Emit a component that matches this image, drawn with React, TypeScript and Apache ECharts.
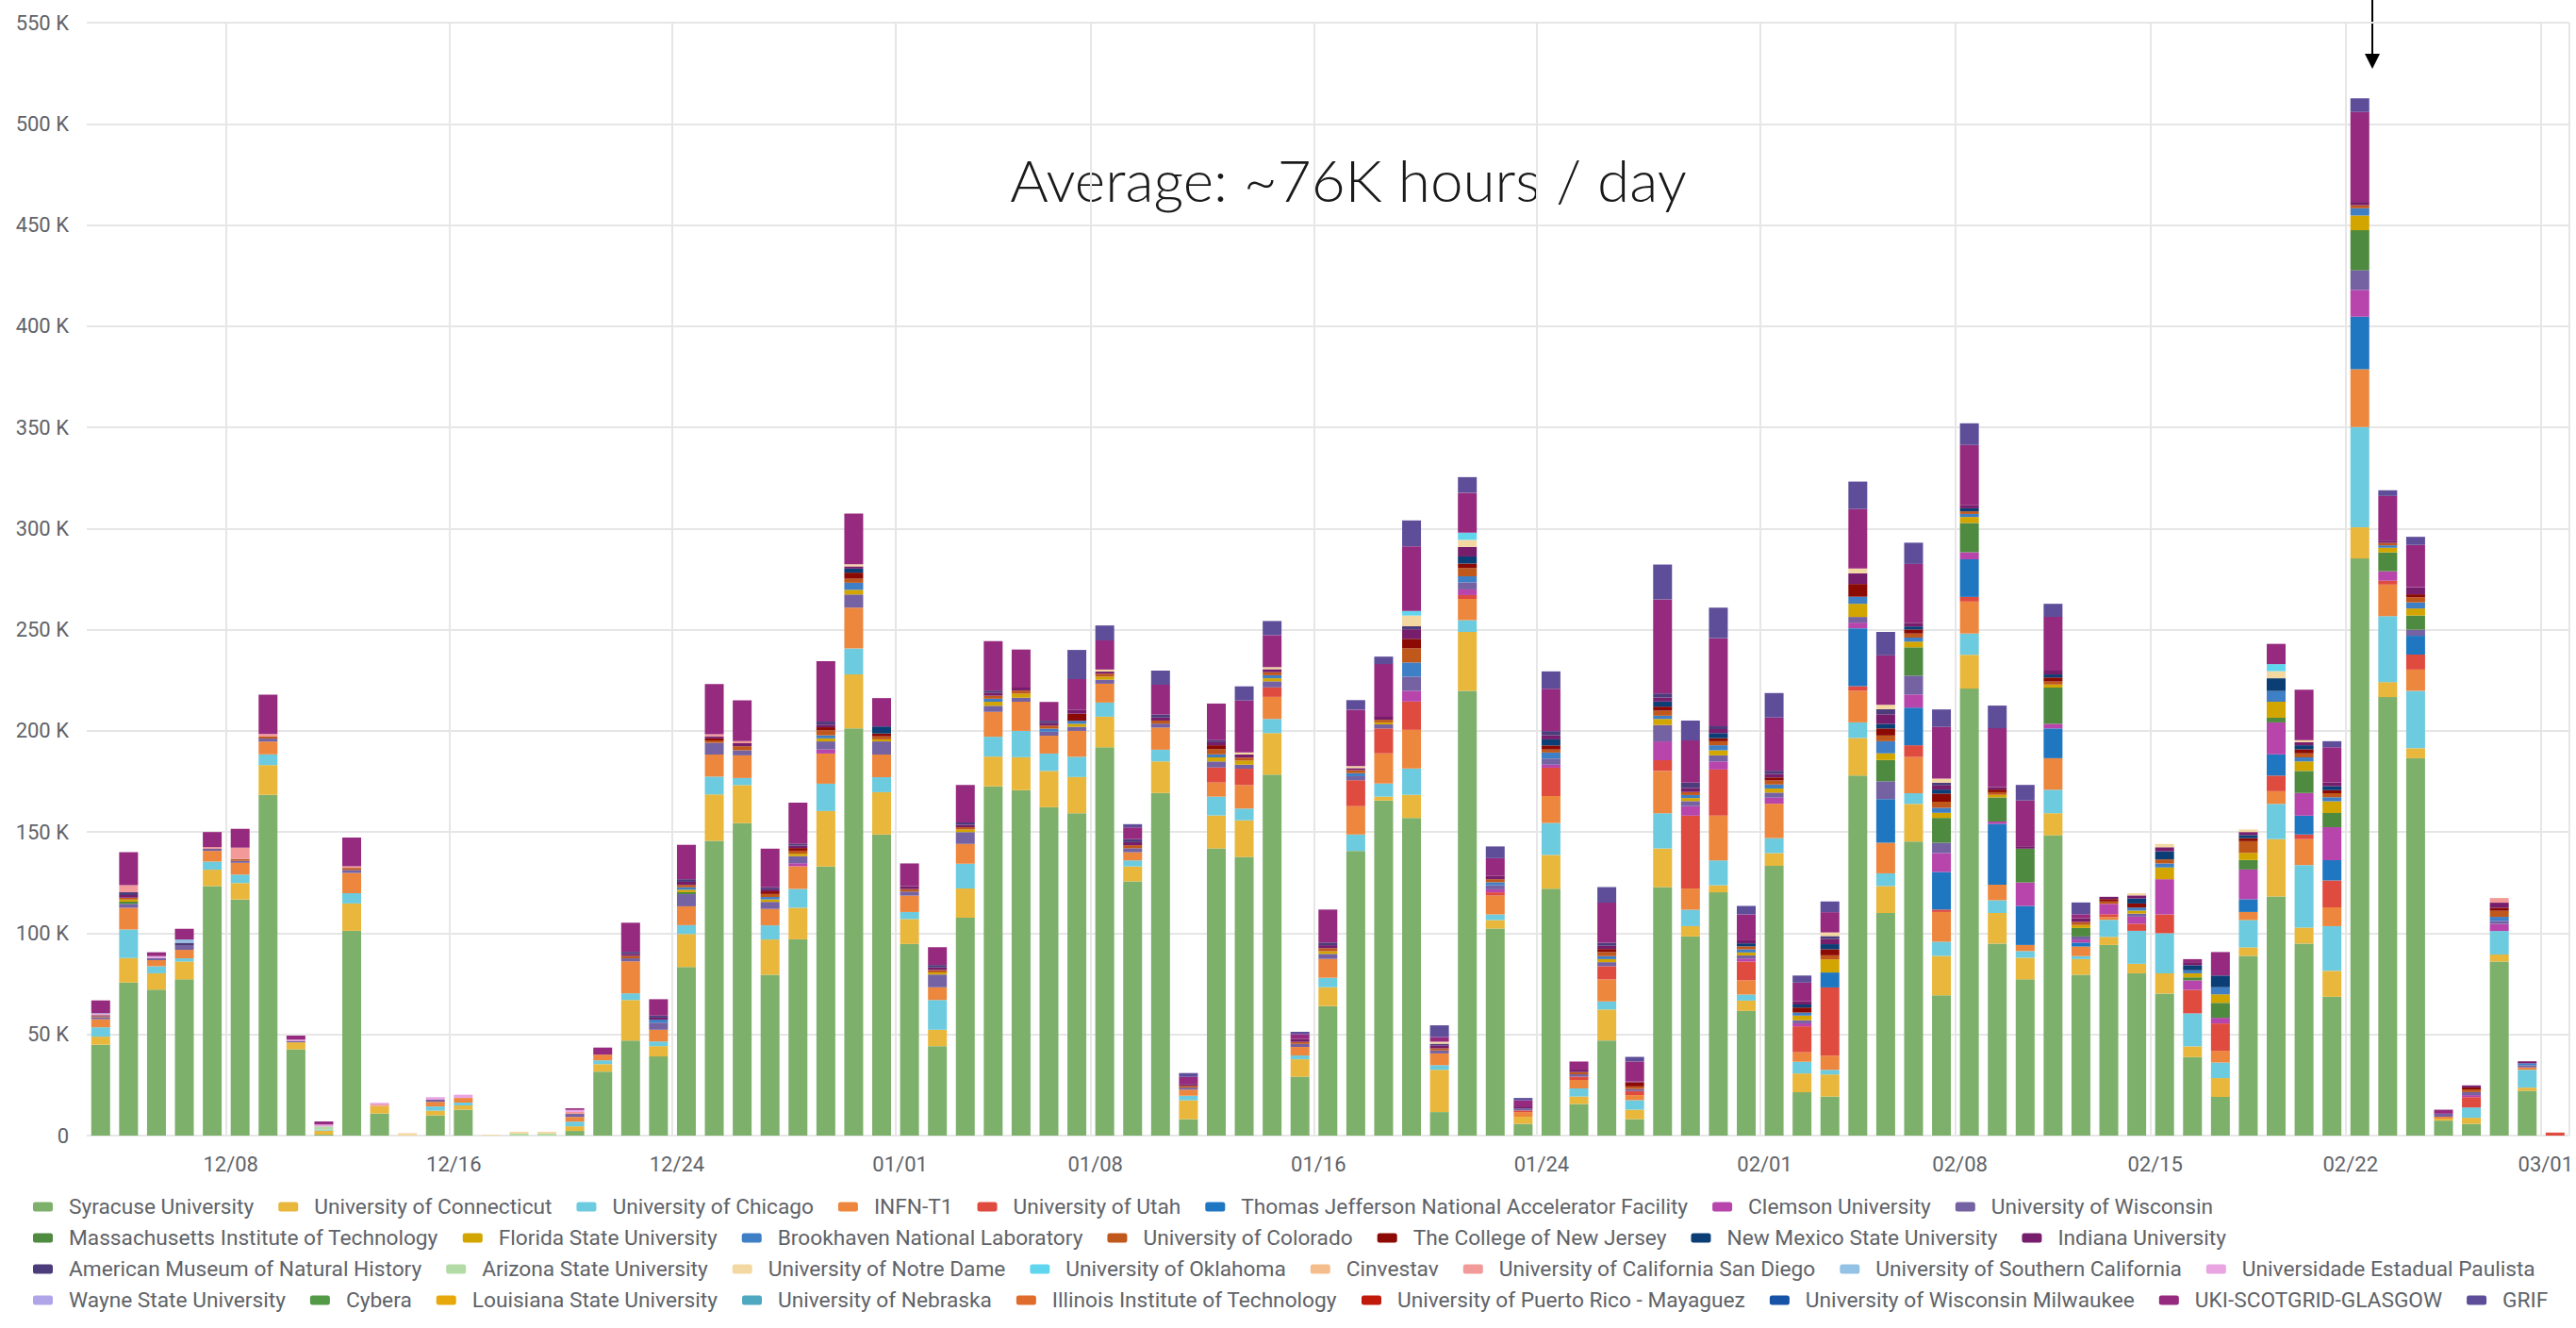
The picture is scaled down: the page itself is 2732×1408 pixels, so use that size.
import React, { useEffect, useRef } from 'react';
import * as echarts from 'echarts';

// ---------------- data (thousand core hours per day) ----------------
const dates = [
  '12/03','12/04','12/05','12/06','12/07','12/08','12/09','12/10','12/11','12/12',
  '12/13','12/14','12/15','12/16','12/17','12/18','12/19','12/20','12/21','12/22',
  '12/23','12/24','12/25','12/26','12/27','12/28','12/29','12/30','12/31','01/01',
  '01/02','01/03','01/04','01/05','01/06','01/07','01/08','01/09','01/10','01/11',
  '01/12','01/13','01/14','01/15','01/16','01/17','01/18','01/19','01/20','01/21',
  '01/22','01/23','01/24','01/25','01/26','01/27','01/28','01/29','01/30','01/31',
  '02/01','02/02','02/03','02/04','02/05','02/06','02/07','02/08','02/09','02/10',
  '02/11','02/12','02/13','02/14','02/15','02/16','02/17','02/18','02/19','02/20',
  '02/21','02/22','02/23','02/24','02/25','02/26','02/27','02/28','03/01'
];
const tickLabels = ['12/08','12/16','12/24','01/01','01/08','01/16','01/24','02/01','02/08','02/15','02/22','03/01'];

const syracuse = [
  44.9,75.6,72.1,77.2,123.3,116.7,168.4,42.6,0.5,101.2,
  10.9,0,10,12.8,0,0,0,2.3,31.6,47,
  39.1,83.3,145.6,154.4,79.5,97,133,201.2,148.8,94.7,
  44.2,107.7,172.6,170.7,162.3,159.3,191.9,125.6,169.3,8.1,
  141.9,137.7,178.4,29.1,64,140.7,165.6,157,11.6,219.8,
  102.3,5.8,122,15.6,47,8.1,122.8,98.4,120.2,61.6,
  133.3,21.4,19.3,177.9,110,145.3,69.3,220.9,94.9,77.2,
  148.4,79.5,94.2,80.2,70.2,38.8,19.1,88.8,118.1,94.9,
  68.6,285.2,216.7,186.5,7.4,5.8,86,22.1,0
];
const connecticut = [
  4,12.1,8.1,8.8,8.1,8.1,14.7,3.5,2,13.5,
  3.7,0,2.3,2.1,0,0,0,2.3,3.7,20,
  5.1,16.3,23,18.8,17.4,15.6,27.4,26.7,20.9,12.3,
  8.1,14.4,14.7,16.3,17.9,17.9,15.1,7.4,15.6,9.3,
  16.3,18.1,20.5,8.6,9.3,0,1.9,11.4,20.9,29.1,
  4.2,3.5,16.7,3.7,15.3,4.7,19.1,5.1,3.5,5.1,
  6.3,9.3,10.9,18.6,13.3,18.6,19.5,16.7,15.1,10.7,
  10.9,7.7,4,4.7,10,5.3,9.3,4.2,28.4,7.9,
  12.8,15.4,7.4,4.9,1,3,3.5,1.6,0
];
const chicago = [
  4.6,14.2,3.5,1.6,4,4.2,5.3,0,0.5,5.1,
  0,0,2.1,1.4,0,0,0,2.3,1.9,3.3,
  2.3,4.4,8.8,3.5,7,9.3,13.5,12.8,7.4,3.5,
  14.7,12.3,9.8,13,8.6,10,7,3,5.8,2.3,
  9.3,5.8,7,1.9,4.7,8.1,6.5,13,2.3,5.8,
  2.8,0,15.8,4,4,4.7,17.4,8.1,12.3,3,
  7.4,5.8,2.3,7.7,6.3,5.3,7,10.5,6.3,3.3,
  11.6,1.5,8.4,16.3,19.8,16.3,7.7,13.5,17.4,30.9,
  22.1,49.6,32.6,28.4,0,5.1,11.6,8.8,0
];
const infn = [
  4,10.7,3,4.2,5.3,5.8,6.3,0,0,10,
  0,0,2.3,2.3,0,0,0,2.3,2.8,15.8,
  5.8,9.3,10.9,11.2,8.1,11.2,14.9,20.2,11.2,8.1,
  6.3,9.8,12.3,14.4,8.8,12.8,9.3,4,10.9,3,
  7,11.6,10.9,4.2,9.3,14,14.9,19.1,5.8,10.5,
  9.3,2.3,13.3,4.2,10.9,2.5,20.9,10.5,22.1,7,
  17,4.7,7,15.6,15.1,17.9,14.7,15.8,7.7,3,
  15.6,4.7,1.4,0,0,0,5.8,4,6.3,12.8,
  9.3,28.5,15.6,10.5,0.9,0,0,1.2,0
];
const utah = [
  0,0,0,0,0,0,0,0,0,0,
  0,0,0,0,0,0,0,0,0,0,
  0,0,0,0,0,0,0,0,0,0,
  0,0,0,0,0,0,0,0,0,0,
  7.4,8.1,4.7,0,0,12.8,12.3,14,0,1.9,
  1.6,0.8,14,1.6,6.5,2,5.3,36,22.8,9.3,
  0,12.8,33.7,2.3,0,5.8,1.2,2.3,0,0,
  0,0,1.4,3.5,9.3,11.6,13.5,0,7.7,2.3,
  13.3,0,1.9,7.4,0,5.1,0,0,1.5
];
const jlab = [
  0,0,0,0,0,0,0,0,0,0,
  0,0,0,0,0,0,0,0,0,0,
  0,0,0,0,0,0,0,0,0,0,
  0,0,0,0,0,0,0,0,0,0,
  0,0,0,0,0,0,0,0,0,0,
  0,0,0,0,0,0,0,0,0,0,
  0,0,7.4,28.6,21.6,18.6,18.6,18.6,30,19.3,
  14.7,2,0,0,0,0,0,6.3,10.5,9.3,
  10,26,0,9.3,0,0,0,0,0
];
const clemson = [
  0,0,0,0,0,0,0,0,0,0,
  0,0,0,0,0,0,0,0,0,0,
  0,0,0,0,0,1.5,2,0,0,0,
  0,0,0,0,0,0,0,0,0,0,
  0,0,0,0,0,0,0,5.3,0,2.8,
  1.5,0,1.5,0,0,0,9.3,4.7,4,1.5,
  3,1.5,0,2.8,0,6.5,9.3,3.5,1.2,11.6,
  2.3,1.5,5.1,3.5,17.4,4.7,2.8,14.7,15.8,11.2,
  16.3,13.2,4.7,0,0,1,3.5,0,0
];
const wisconsin = [
  1,2,1,2,1,1,1.5,0.7,0,1.5,
  0,0,1,0,0,0,0,1.5,0,1.5,
  3.5,6,5.8,2.5,3.5,3.5,4,6.5,6.5,2,
  6.3,5.8,3,2,2,2,2,2,2,1,
  3,2,3,1.5,2.5,2,2,7,1.5,3.5,
  2,1,3,1.2,2,1,8.1,2.5,3,1.5,
  2.5,1.5,0,2.8,8.8,9.3,5.1,0,0,0,
  0,1.5,0,1.5,0,0,0,0,0,0,
  0,9.8,0,3,1.5,1.5,1.5,1,0
];
const mit = [
  0,1,0,0,0,0,0,0,0,0,
  0,0,0,0,0,0,0,0,0,0,
  0,1,0,0,0,0,0,0,0,0,
  0,0,0,0,0,0,0,0,0,0,
  0,0,0,0,0,0,0,0,0,0,
  0,0,0,0,0,0,0,0,0,0,
  0,0,0,0,10.5,14,12.3,14.4,11.9,16.7,
  17.9,4.2,0,0,0,1.5,7.4,4.7,2.3,10.9,
  7,19.7,9.3,7,0,0,0,0,0
];
const floridaState = [
  0,1,0,0,0,0,0,0,0,0,
  0,0,0,0,0,0,0,0,0,0,
  0,1.2,0,0,1.2,1.2,1.5,2.3,1,0,
  1,1.2,2,2,0,1.5,1.5,0,0,0,
  2,2,1.5,0,1.3,0,1,0,0,0,
  0,0,0,0,1.5,0,3,1.5,2.5,1.5,
  2,2.3,6.5,6.5,3.3,2.8,2.5,3,1.3,0,
  1.5,1.5,0,1.5,5.8,2,4.2,3.5,7.9,4.7,
  5.8,7.3,2.3,3.5,0,0,0,0,0
];
const brookhaven = [
  0,0,0,0,0,0,0,0,0,0,
  0,0,0,0,0,0,0,0,0,0,
  1.5,1.2,0,0,1.2,0,1.5,3.5,0,0,
  0,0,1.5,0,1.5,1.5,0,0,0,0,
  1.5,0,1.5,0,0,1.5,0,7,0,3,
  1.5,0,3,0,1.5,0,1.6,1.5,2.5,1.5,
  2,1.5,0,3.5,6,2,2.5,1.5,0,0,
  0,0,0,1.5,2,1.5,3.5,0,5.3,2,
  2,3.6,1.2,3,0,0,2,1,0
];
const colorado = [
  0.5,1,0,0,0,0.9,1,0,0,1,
  0,0,0,0,0,0,0,0,0,1.2,
  0,1.2,1.2,2,1.5,1.5,2.5,2,1.5,1.2,
  1.2,1.2,1.5,1.5,1.5,0,1.5,1.5,1.5,0.9,
  2.5,1.5,1.5,1,1.5,1.5,1.3,7,1,4,
  1.5,0,1.5,1.1,2,1.3,2.5,1.5,2,1.5,
  2,0,2,0,2.8,2,3,1.3,1.3,0,
  1.5,1.5,1.2,0,2,0,0,5.8,0,2,
  2,1.5,1.2,2.5,0,1.3,3,0,0
];
const collegeNJ = [
  0,0,0,0,0,0,0,0,0,0,
  0,0,0,0,0,0,0,0,0,0,
  0,0,1,0,1.3,1.3,1.5,3,1.4,0,
  0,0,0,0,0,3.5,0,0,0,0,
  2,0,0,0,0,0,0,4.7,0,2.3,
  0,0,2,0,1.5,2,2,0,1.5,0,
  1.5,2.5,3,6.3,3.5,2,4,0,1.3,0,
  2,0,1.2,2,0,0,0,1.5,0,2,
  1.5,0,0,1.5,0,1,1.5,0,0
];
const newMexico = [
  0,0,0,0,0,0,0,0,0,0,
  0,0,0,0,0,0,0,0,0,0,
  0,0,0,0,0,0,0,2,3.5,0,
  0,0,0,0,0,0,0,0,0,0,
  0,0,0,0,0,0,0,0,0,3.5,
  0,0,3,0,0,0,2.5,0,2.5,1.5,
  0,1.5,2.5,0,2.3,1.5,2,1.5,0,0,
  1.5,0,0,2.5,4,2.5,5.8,1.5,6.3,2,
  2,0,0,0,0,0,0,0,0
];
const indiana = [
  0.5,1.2,0,0,0,0,0,0,0,0,
  0,0,0,0,0,0,0,0,0,1,
  1,1.5,1,1.5,1,1.2,1.3,1.1,0,1.5,
  1.3,1.2,1.5,1.5,1.2,2,1,1.5,1.5,0.9,
  1.5,1.5,1.5,1.5,1.5,1,1.5,4.7,1.5,4.7,
  1.6,1,2,1.2,1.6,0.5,2,2,2,1.5,
  1.8,1.5,2.5,5.3,4.7,1.8,2,1.5,1.2,1.2,
  1.9,1.8,1.1,1.5,2,1.5,0,1.5,0,1.5,
  1.8,1.6,1.1,3.5,0,1,2.5,1,0
];
const amnh = [
  0,1.5,0,1.5,0,0,0,0,0,0,
  0,0,0,0,0,0,0,0,0,1,
  1,1.3,0,0,1,1,1.5,0,0,0,
  1.2,1.1,1,0,1.2,0,0,1.5,1.5,0,
  1,0,0,0,1.3,0,0,1.5,0.8,0,
  0,0,2.1,0,1.5,0,2,2.6,1.4,0,
  1.5,0,1.5,0,2.5,0,1.4,0,0,0,
  0,0,0,0,0,0,0,0,0,0,
  0,0,0,0,0,0,0,0,0
];
const arizonaState = [
  0,0,0,0,0,0,0,0,1.5,0,
  0,0,0,0,0,1,1,0,0,0,
  0,0,0,0,0,0,0,0,0,0,
  0,0,0,0,0,0,0,0,0,0,
  0,0,0,0,0,0,0,0,0,0,
  0,0,0,0,0,0,0,0,0,0,
  0,0,0,0,0,0,0,0,0,0,
  0,0,0,0,0,0,0,0,0,0,
  0,0,0,0,0,0,0,0,0
];
const notreDame = [
  0,0,0,0,0,0,0,0,0,0,
  0,1.2,0,0,0.4,0.9,0.9,0,0,0,
  0,0,0,0,0,0,0,1,0,0,
  0,0,0,0,0,0,1,0,0,0,
  0,1.1,1,0,0,1,0,5.3,1,3.5,
  0,0,0,0,0,0,0,0,0,0,
  0,0,1.8,2.3,2.2,0,2,0,0,0,
  0,0,0,1.1,1.6,0,0,1.3,3.5,1,
  0,0,0,0,0,0,0,0,0
];
const oklahoma = [
  0,0,0,0,0,0,0,0,0,0,
  0,0,0,0,0,0,0,0,0,0,
  0,0,0,0,0,0,0,0,0,0,
  0,0,0,0,0,0,0,0,0,0,
  0,0,0,0,0,0,0,2.3,0,3.5,
  0,0,0,0,0,0,0,0,0,0,
  0,0,0,0,0,0,0,0,0,0,
  0,0,0,0,0,0,0,0,3.5,0,
  0,0,0,0,0,0,0,0,0
];
const cinvestav = [
  0,0,0,0,0,0,0,0,0,0,
  0,0,0,0,0,0,0,0,0,0,
  0,0,0,0,0,0,0,0,0,0,
  0,0,0,0,0,0,0,0,0,0,
  0,0,0,0,0,0,0,0,0,0,
  0,0,0,0,0,0,0,0,0,0,
  0,0,0,0,0,0,0,0,0,0,
  0,0,0,0,0,0,0,0,0,0,
  0,0,0,0,0,0,0,0,0
];
const ucsd = [
  0.5,3.5,0,0,0.9,5.6,1.2,0,0,0.8,
  0.8,0,0,0,0,0,0,1,0,0,
  0,0,1,1,0,0,0,0,0,0,
  0,0,0,0,0,0,0,0,0,0,
  0,0,0,0,0,0,0,0,0,0,
  0,0,0,0,0,0,0,0,0,0,
  0,0,0,0,0,0,0,0,0,0,
  0,0,0,0,0,0,0,0,0,0,
  0,0,0,0,0,0,2.3,0,0
];
const usc = [
  0,0,0,1.6,0,0,0,0,0,0,
  0,0,0,0,0,0,0,0,0,0,
  0,0,0,0,0,0,0,0,0,0,
  0,0,0,0,0,0,0,0,0,0,
  0,0,0,0,0,0,0,0,0,0,
  0,0,0,0,0,0,0,0,0,0,
  0,0,0,0,0,0,0,0,0,0,
  0,0,0,0,0,0,0,0,0,0,
  0,0,0,0,0,0,0,0,0
];
const unesp = [
  0,0,1,0,0,0,0,0.6,1,0,
  0.8,0,1.3,1.6,0,0,0,1,0,0,
  0,0,0,0,0,0,0,0,0,0,
  0,0,0,0,0,0,0,0,0,0,
  0,0,0,0,0,0,0,0,0,0,
  0,0,0,0,0,0,0,0,0,0,
  0,0,0,0,0,0,0,0,0,0,
  0,0,0,0,0,0,0,0,0,0,
  0,0,0,0,0,0,0,0,0
];
const wayneState = [
  0.5,0,0,0,0,0,0,0,0,0,
  0,0,0,0,0,0,0,0,0,0,
  0,0,0,0,0,0,0,0,0,0,
  0,0,0,0,0,0,0,0,0,0,
  0,0,0,0,0,0,0,0,0,0,
  0,0,0,0,0,0,0,0,0,0,
  0,0,0,0,0,0,0,0,0,0,
  0,0,0,0,0,0,0,0,0,0,
  0,0,0,0,0,0,0,0,0
];
const cybera = cinvestav.slice();
const lsu = cinvestav.slice();
const nebraska = cinvestav.slice();
const iit = cinvestav.slice();
const uprm = cinvestav.slice();
const uwm = cinvestav.slice();
const glasgow = [
  6.3,16.3,1.9,5.3,7.4,9.3,19.5,2,1.5,14.2,
  0,0,0,0,0,0,0,0.8,3.5,14.4,
  8.1,17,24.9,20.2,19.1,20.2,29.8,25.1,14,11.2,
  8.8,18.6,24.4,18.8,9.3,15.1,14.4,5.8,14.7,3.5,
  18.1,25.6,15.8,2.3,16.3,27.9,26,31.9,2.3,19.8,
  8.8,3,20.9,4,19.8,9.8,46.5,20.9,43.5,12.8,
  26.3,9.3,10,29.5,24.4,29.1,25.6,29.8,29.1,22.6,
  26.5,2,0,0,0,1.5,11.6,0,10,24.9,
  17.4,44.5,22.1,20.9,2,0,0,0,0
];
const grif = [
  0,0,0,0,0,0,0,0,0,0,
  0,0,0,0,0,0,0,0,0,0,
  0,0,0,0,0,0,0,0,0,0,
  0,0,0,0,0,14.4,7.4,1.6,7,1.9,
  0,7,7,1.2,0,4.7,3.7,12.8,5.8,7.7,
  5.8,1.2,8.6,0,7.7,2.3,17.2,9.8,15.1,4.2,
  12.1,3.5,5.3,13.5,11.6,10.5,8.6,10.7,11.2,7.7,
  6.5,5.8,0,0,0,0,0,0,0,0,
  3,6.7,2.8,4,0,0,0,0,0
];

const seriesDefs = [
  { name: 'Syracuse University', color: '#7db06b', data: syracuse },
  { name: 'University of Connecticut', color: '#e9b73c', data: connecticut },
  { name: 'University of Chicago', color: '#6dcbdf', data: chicago },
  { name: 'INFN-T1', color: '#ee873e', data: infn },
  { name: 'University of Utah', color: '#e04b3f', data: utah },
  { name: 'Thomas Jefferson National Accelerator Facility', color: '#2077c1', data: jlab },
  { name: 'Clemson University', color: '#b745ac', data: clemson },
  { name: 'University of Wisconsin', color: '#7462a2', data: wisconsin },
  { name: 'Massachusetts Institute of Technology', color: '#4e8a3f', data: mit },
  { name: 'Florida State University', color: '#d2a500', data: floridaState },
  { name: 'Brookhaven National Laboratory', color: '#3f7fc5', data: brookhaven },
  { name: 'University of Colorado', color: '#c0581b', data: colorado },
  { name: 'The College of New Jersey', color: '#8b0a03', data: collegeNJ },
  { name: 'New Mexico State University', color: '#0b3e74', data: newMexico },
  { name: 'Indiana University', color: '#761d6b', data: indiana },
  { name: 'American Museum of Natural History', color: '#4d3c7b', data: amnh },
  { name: 'Arizona State University', color: '#b3dba5', data: arizonaState },
  { name: 'University of Notre Dame', color: '#f4d8a2', data: notreDame },
  { name: 'University of Oklahoma', color: '#60d6ee', data: oklahoma },
  { name: 'Cinvestav', color: '#f6bd8c', data: cinvestav },
  { name: 'University of California San Diego', color: '#f19a99', data: ucsd },
  { name: 'University of Southern California', color: '#93c2e5', data: usc },
  { name: 'Universidade Estadual Paulista', color: '#e8a5e1', data: unesp },
  { name: 'Wayne State University', color: '#b1a5ea', data: wayneState },
  { name: 'Cybera', color: '#529a46', data: cybera },
  { name: 'Louisiana State University', color: '#e6a80b', data: lsu },
  { name: 'University of Nebraska', color: '#4ea8c0', data: nebraska },
  { name: 'Illinois Institute of Technology', color: '#e06c2b', data: iit },
  { name: 'University of Puerto Rico - Mayaguez', color: '#c11a0b', data: uprm },
  { name: 'University of Wisconsin Milwaukee', color: '#1652a6', data: uwm },
  { name: 'UKI-SCOTGRID-GLASGOW', color: '#962a7e', data: glasgow },
  { name: 'GRIF', color: '#5e4e9a', data: grif },
];

// legend rows as laid out in the original (first index of each row)
const legendRowStarts = [0, 8, 15, 23, 32];

export default function App() {
  const ref = useRef<HTMLDivElement>(null);
  useEffect(() => {
    const chart = echarts.init(ref.current as HTMLDivElement, null, { renderer: 'svg' });
    const tickIdx = new Set(tickLabels.map((t) => dates.indexOf(t)));
    const showTick = (i: number) => tickIdx.has(i);
    const names = seriesDefs.map((s) => s.name);
    const legends = legendRowStarts.slice(0, -1).map((start, r) => ({
      type: 'plain',
      orient: 'horizontal',
      left: 35,
      top: 1268 + r * 33,
      width: 2900,
      padding: 0,
      icon: 'roundRect',
      itemWidth: 21,
      itemHeight: 10,
      itemGap: 26,
      textStyle: {
        color: '#5f6368',
        fontSize: 22.7,
        fontFamily: 'Roboto',
        padding: [0, 0, 0, 12],
      },
      data: names.slice(start, legendRowStarts[r + 1]),
    }));
    chart.setOption({
      animation: false,
      backgroundColor: '#ffffff',
      grid: { left: 92, top: 24, width: 2647, bottom: 204, containLabel: false },
      xAxis: {
        type: 'category',
        data: dates,
        boundaryGap: true,
        axisLine: { show: false },
        axisTick: { show: false },
        axisLabel: {
          interval: (i: number) => showTick(i),
          color: '#5f6368',
          fontSize: 22,
          fontFamily: 'Roboto',
          margin: 19,
          padding: [0, 20, 0, 0],
        },
        splitLine: {
          show: true,
          interval: (i: number) => showTick(i),
          lineStyle: { color: '#e6e6e6', width: 2 },
        },
      },
      yAxis: {
        type: 'value',
        min: 0,
        max: 550,
        interval: 50,
        axisLine: { show: false },
        axisTick: { show: false },
        axisLabel: {
          color: '#5f6368',
          fontSize: 22,
          fontFamily: 'Roboto',
          margin: 19,
          formatter: (v: number) => (v === 0 ? '0' : v + ' K'),
        },
        splitLine: { lineStyle: { color: '#e6e6e6', width: 2 } },
      },
      legend: legends,
      graphic: [
        {
          type: 'text',
          x: 1430,
          y: 190,
          style: {
            text: 'Average: ~76K hours / day',
            fill: '#1a1a1a',
            fontSize: 62,
            fontFamily: 'Lato',
            fontWeight: 300,
            textAlign: 'center',
            textVerticalAlign: 'middle',
            align: 'center',
            verticalAlign: 'middle',
          },
        },
        {
          type: 'line',
          shape: { x1: 2516, y1: 0, x2: 2516, y2: 62 },
          style: { stroke: '#000000', lineWidth: 2 },
        },
        {
          type: 'polygon',
          shape: { points: [[2508, 57], [2524, 57], [2516, 73]] },
          style: { fill: '#000000' },
        },
      ],
      series: seriesDefs.map((s) => ({
        name: s.name,
        type: 'bar',
        stack: 'total',
        barWidth: 20,
        itemStyle: { color: s.color },
        emphasis: { disabled: true },
        data: s.data,
      })),
    });
    return () => chart.dispose();
  }, []);
  return (
    <div
      ref={ref}
      style={{ position: 'fixed', left: 0, top: 0, width: 2732, height: 1408, background: '#ffffff' }}
    />
  );
}
